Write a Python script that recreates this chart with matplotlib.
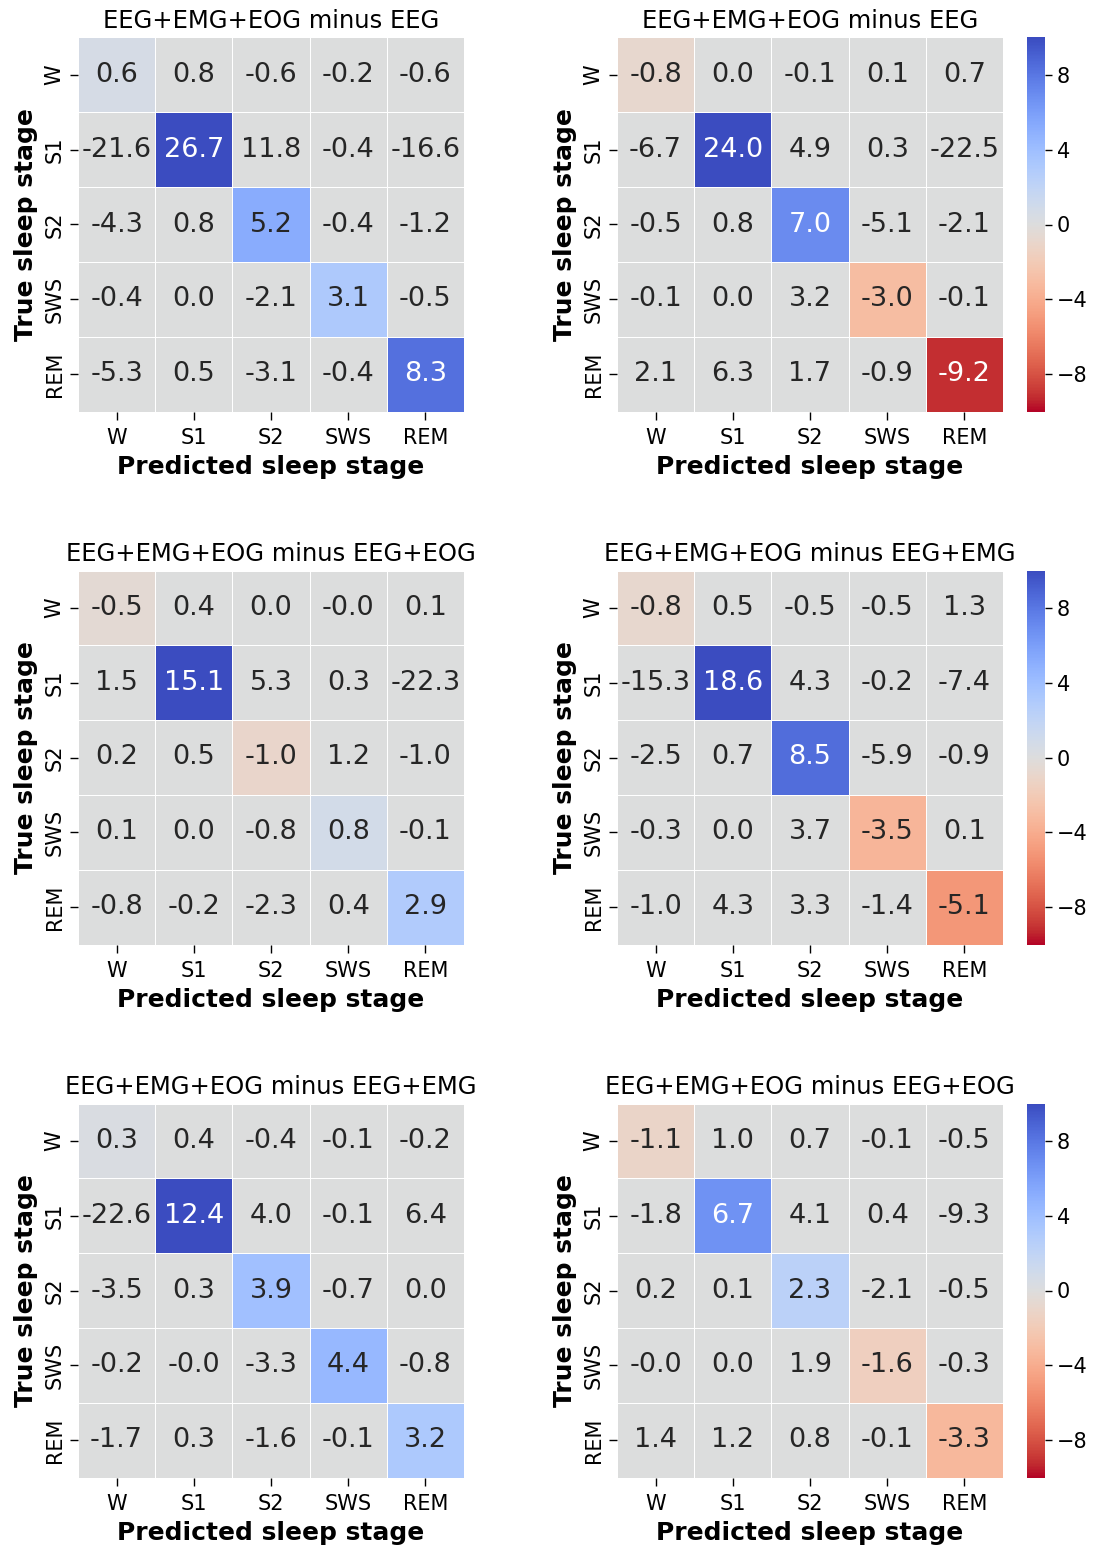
import numpy as np
import matplotlib
matplotlib.use("Agg")
import matplotlib.pyplot as plt
import seaborn as sns

stages = ["W", "S1", "S2", "SWS", "REM"]

titles = [
    "EEG+EMG+EOG minus EEG",
    "EEG+EMG+EOG minus EEG",
    "EEG+EMG+EOG minus EEG+EOG",
    "EEG+EMG+EOG minus EEG+EMG",
    "EEG+EMG+EOG minus EEG+EMG",
    "EEG+EMG+EOG minus EEG+EOG",
]

diff_1 = [
    [0.6, 0.8, -0.6, -0.2, -0.6],
    [-21.6, 26.7, 11.8, -0.4, -16.6],
    [-4.3, 0.8, 5.2, -0.4, -1.2],
    [-0.4, 0.0, -2.1, 3.1, -0.5],
    [-5.3, 0.5, -3.1, -0.4, 8.3],
]
diff_2 = [
    [-0.8, 0.0, -0.1, 0.1, 0.7],
    [-6.7, 24.0, 4.9, 0.3, -22.5],
    [-0.5, 0.8, 7.0, -5.1, -2.1],
    [-0.1, 0.0, 3.2, -3.0, -0.1],
    [2.1, 6.3, 1.7, -0.9, -9.2],
]
diff_3 = [
    [-0.5, 0.4, 0.0, -0.0, 0.1],
    [1.5, 15.1, 5.3, 0.3, -22.3],
    [0.2, 0.5, -1.0, 1.2, -1.0],
    [0.1, 0.0, -0.8, 0.8, -0.1],
    [-0.8, -0.2, -2.3, 0.4, 2.9],
]
diff_4 = [
    [-0.8, 0.5, -0.5, -0.5, 1.3],
    [-15.3, 18.6, 4.3, -0.2, -7.4],
    [-2.5, 0.7, 8.5, -5.9, -0.9],
    [-0.3, 0.0, 3.7, -3.5, 0.1],
    [-1.0, 4.3, 3.3, -1.4, -5.1],
]
diff_5 = [
    [0.3, 0.4, -0.4, -0.1, -0.2],
    [-22.6, 12.4, 4.0, -0.1, 6.4],
    [-3.5, 0.3, 3.9, -0.7, 0.0],
    [-0.2, -0.0, -3.3, 4.4, -0.8],
    [-1.7, 0.3, -1.6, -0.1, 3.2],
]
diff_6 = [
    [-1.1, 1.0, 0.7, -0.1, -0.5],
    [-1.8, 6.7, 4.1, 0.4, -9.3],
    [0.2, 0.1, 2.3, -2.1, -0.5],
    [-0.0, 0.0, 1.9, -1.6, -0.3],
    [1.4, 1.2, 0.8, -0.1, -3.3],
]
panels = [diff_1, diff_2, diff_3, diff_4, diff_5, diff_6]
cbar_ticks = [-8, -4, 0, 4, 8]

W, H = 1094, 1547
fig = plt.figure(figsize=(W / 100, H / 100), dpi=100)

left_x = [78, 617]
top_y = [37.5, 570.5, 1103.5]
aw, ah = 386, 374

for i, vals in enumerate(panels):
    r, c = divmod(i, 2)
    x0 = left_x[c]
    y0 = top_y[r]
    ax = fig.add_axes([x0 / W, 1 - (y0 + ah) / H, aw / W, ah / H])
    arr = np.array(vals, dtype=float)
    color_data = np.zeros_like(arr)
    np.fill_diagonal(color_data, np.diag(arr))
    annot = np.array([[format(v, ".1f") for v in row] for row in vals])
    cax = None
    if c == 1:
        cax = fig.add_axes([1027 / W, 1 - (y0 + ah) / H, 18 / W, ah / H])
    sns.heatmap(color_data, ax=ax, annot=annot, fmt="", cmap="coolwarm_r",
                vmin=-10, vmax=10, linewidths=0.6, linecolor="white",
                cbar=(c == 1), cbar_ax=cax,
                annot_kws={"fontsize": 19.5},
                xticklabels=stages, yticklabels=stages)
    ax.set_title(titles[i], fontsize=17.5, pad=7)
    ax.set_xlabel("Predicted sleep stage", fontsize=18, fontweight="bold", labelpad=5)
    ax.set_ylabel("True sleep stage", fontsize=18, fontweight="bold", labelpad=5)
    ax.tick_params(axis="both", labelsize=15, length=6, width=1)
    ax.tick_params(axis="x", pad=6)
    ax.tick_params(axis="y", pad=3.5)
    ax.set_yticklabels(stages, rotation=90, va="center")
    ax.set_xticklabels(stages, rotation=0)
    if cax is not None:
        cax.set_yticks(cbar_ticks)
        cax.tick_params(labelsize=15, length=5, width=1)

fig.savefig("out.png", dpi=100)
